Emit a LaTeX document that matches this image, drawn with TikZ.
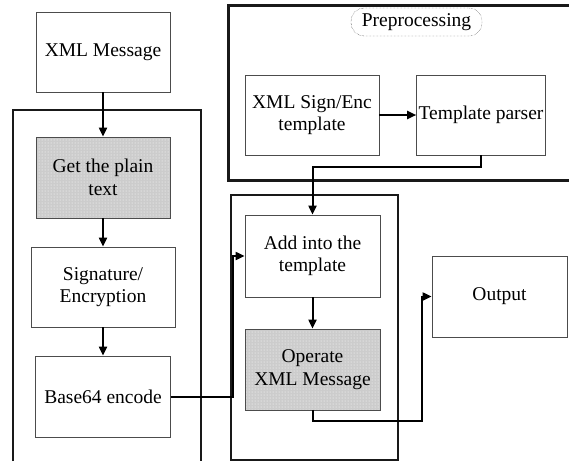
\documentclass[tikz,border=0pt]{standalone}
\usepackage{fontspec}
\setmainfont{Liberation Serif}
\usepackage{tikz}
\usetikzlibrary{positioning}
\usetikzlibrary{calc}
\usetikzlibrary{arrows.meta}
\usetikzlibrary{patterns}
\tikzset{
  blockbox/.style={% plain process box
    draw=black!70,
    line width=0.8pt,
    align=center,
    inner sep=2pt,
    font=\fontsize{19.5}{22.5}\selectfont
  },
  shadebox/.style={% shaded process box
    blockbox,
    preaction={fill=black!20},
    pattern=dots,
    pattern color=white
  },
  framebox/.style={line width=2pt,draw=black!90},
  conn/.style={line width=2pt,-{Triangle[length=9pt,width=8pt]}},
  preplabel/.style={
    draw=black!85,
    densely dotted,
    rounded corners=13pt,
    minimum width=131pt,
    minimum height=28pt,
    font=\fontsize{19.5}{22.5}\selectfont
  }
}

\begin{document}
\begin{tikzpicture}[x=1pt,y=-1pt]
    \useasboundingbox (0,0) rectangle (569,461);
    % frames
    \draw[framebox] (13,461) -- (13,110) -- (201,110) -- (201,461);
    \draw[framebox,line width=3pt] (569,5) -- (228,5) -- (228,180) -- (569,180);
    \draw[framebox] (231,195) rectangle (398,460);
    \node[preplabel] (prep) at (416.5,22) {Preprocessing};
    % left column
    \node[blockbox,minimum width=134pt,minimum height=80pt] (msg) at (103,52) {XML Message};
    \node[shadebox,minimum width=134pt,minimum height=81pt] (plain) at (103,177.5) {Get the plain\\text};
    \node[blockbox,minimum width=144pt,minimum height=80pt] (sign) at (103,287) {Signature/\\Encryption};
    \node[blockbox,minimum width=135pt,minimum height=81pt] (base) at (103,396.5) {Base64 encode};
    % preprocessing
    \node[blockbox,minimum width=134pt,minimum height=80pt] (tmpl) at (312,115) {XML Sign/Enc\\template};
    \node[blockbox,minimum width=128pt,minimum height=80pt] (parser) at (481,115) {Template parser};
    % middle column
    \node[blockbox,minimum width=135pt,minimum height=82pt] (add) at (312.5,256) {Add into the\\template};
    \node[shadebox,minimum width=135pt,minimum height=81pt] (operate) at (312.5,369.5) {Operate\\XML Message};
    \node[blockbox,minimum width=135pt,minimum height=81pt] (out) at (499.5,296.5) {Output};
    % connectors
    \draw[conn] (msg.south) -- (plain.north);
    \draw[conn] (plain.south) -- (sign.north);
    \draw[conn] (sign.south) -- (base.north);
    \draw[conn] (base.east) -| ([xshift=-12pt]add.west) -- (add.west);
    \draw[conn] (tmpl.east) -- (parser.west);
    \draw[conn] (parser.south) -- ++(0,12) -| (add.north);
    \draw[conn] (add.south) -- (operate.north);
    \draw[conn] (operate.south) -- ++(0,11) -| ([xshift=-10pt]out.west) -- (out.west);
\end{tikzpicture}
\end{document}
